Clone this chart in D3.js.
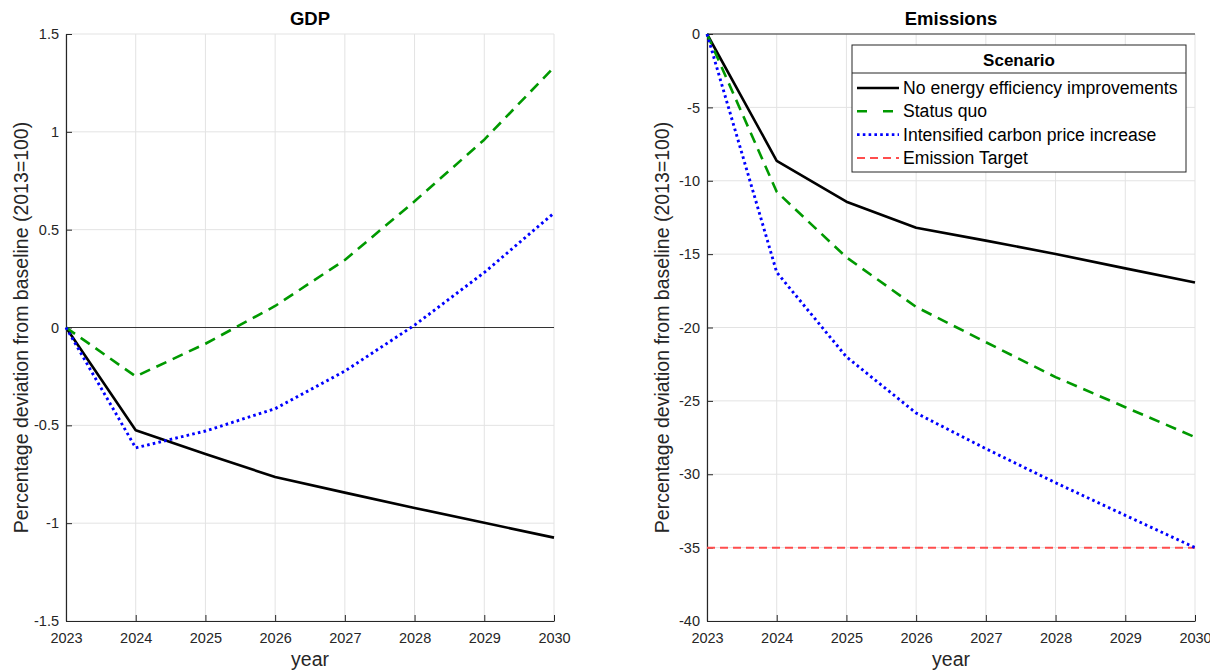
<!DOCTYPE html>
<html>
<head>
<meta charset="utf-8">
<script src="https://cdn.jsdelivr.net/npm/d3@7"></script>
<style>
  html, body { margin: 0; padding: 0; background: #fff; }
  svg { display: block; font-family: "Liberation Sans", Arial, Helvetica, sans-serif; }
</style>
</head>
<body>
<svg id="chart" width="1210" height="671"></svg>
<script>
// ---------- data ----------
const years = [2023, 2024, 2025, 2026, 2027, 2028, 2029, 2030];

const gdpNoEE      = [0, -0.525, -0.647, -0.764, -0.844, -0.922, -0.998, -1.074];
const gdpStatusQuo = [0, -0.25, -0.083, 0.11, 0.345, 0.645, 0.96, 1.33];
const gdpCarbon    = [0, -0.615, -0.529, -0.415, -0.223, 0.012, 0.281, 0.585];

const emiNoEE      = [0, -8.64, -11.43, -13.2, -14.08, -14.99, -15.97, -16.94];
const emiStatusQuo = [0, -10.75, -15.22, -18.6, -21.0, -23.38, -25.43, -27.47];
const emiCarbon    = [0, -16.24, -22.0, -25.83, -28.26, -30.58, -32.8, -35.0];
const emiTarget    = [-35, -35, -35, -35, -35, -35, -35, -35];

const gdpTicks = [-1.5, -1, -0.5, 0, 0.5, 1, 1.5];
const emiTicks = [-40, -35, -30, -25, -20, -15, -10, -5, 0];

const legendTitle = "Scenario";
const seriesNames = ["No energy efficiency improvements", "Status quo", "Intensified carbon price increase", "Emission Target"];
const yLabelText = "Percentage deviation from baseline (2013=100)";
const xLabelText = "year";

// ---------- styles ----------
const styles = {
  noEE:   { color: "#000000", width: 2.6, dash: null },
  sq:     { color: "#009900", width: 2.6, dash: "11,7" },
  carbon: { color: "#0000ff", width: 2.9, dash: "2.6,3.2" },
  target: { color: "#ff4d4d", width: 2.0, dash: "8,5" }
};
const axisColor = "#262626";
const gridColor = "#e3e3e3";
const tickFont = 14.5;
const labelFont = 19.5;

const svg = d3.select("#chart");

function panel(opts) {
  const { x0, x1, y0, y1, yDomain, yTicks, title, series, zeroLine } = opts;
  const x = d3.scaleLinear().domain([2023, 2030]).range([x0, x1]);
  const y = d3.scaleLinear().domain(yDomain).range([y1, y0]);
  const g = svg.append("g");

  // grid
  g.append("g").selectAll("line").data(years).join("line")
    .attr("x1", d => x(d)).attr("x2", d => x(d))
    .attr("y1", y0).attr("y2", y1)
    .attr("stroke", gridColor).attr("stroke-width", 1);
  g.append("g").selectAll("line").data(yTicks).join("line")
    .attr("x1", x0).attr("x2", x1)
    .attr("y1", d => y(d)).attr("y2", d => y(d))
    .attr("stroke", gridColor).attr("stroke-width", 1);

  // zero line
  if (zeroLine) {
    g.append("line")
      .attr("x1", x0).attr("x2", x1)
      .attr("y1", y(0)).attr("y2", y(0))
      .attr("stroke", "#333").attr("stroke-width", 1.2);
  }

  // axes (ticks inside)
  const xAxis = d3.axisBottom(x).tickValues(years).tickFormat(d => String(d))
    .tickSizeInner(-6).tickSizeOuter(0).tickPadding(12);
  const gx = g.append("g").attr("transform", `translate(0,${y1})`).call(xAxis);
  const yAxis = d3.axisLeft(y).tickValues(yTicks).tickFormat(d => String(d))
    .tickSizeInner(-6).tickSizeOuter(0).tickPadding(7);
  const gy = g.append("g").attr("transform", `translate(${x0},0)`).call(yAxis);
  [gx, gy].forEach(a => {
    a.select(".domain").attr("stroke", axisColor).attr("stroke-width", 1.2);
    a.selectAll(".tick line").attr("stroke", axisColor).attr("stroke-width", 1);
    a.selectAll(".tick text").attr("fill", axisColor).style("font-size", tickFont + "px")
      .style("font-family", "'Liberation Sans', Arial, sans-serif");
  });

  // lines
  const line = d3.line().x((d, i) => x(years[i])).y(d => y(d));
  series.forEach(s => {
    g.append("path").datum(s.values)
      .attr("d", line)
      .attr("fill", "none")
      .attr("stroke", s.style.color)
      .attr("stroke-width", s.style.width)
      .attr("stroke-dasharray", s.style.dash)
      .attr("stroke-linejoin", "round");
  });

  // title
  g.append("text").attr("x", (x0 + x1) / 2).attr("y", 25)
    .attr("text-anchor", "middle").attr("font-weight", "bold")
    .attr("font-size", 18.5).attr("fill", "#000").text(title);
  // x label
  g.append("text").attr("x", (x0 + x1) / 2).attr("y", 666)
    .attr("text-anchor", "middle").attr("font-size", labelFont).attr("fill", axisColor)
    .text(xLabelText);
  // y label
  g.append("text")
    .attr("transform", `translate(${x0 - 38},${(y0 + y1) / 2}) rotate(-90)`)
    .attr("text-anchor", "middle").attr("font-size", labelFont).attr("fill", axisColor)
    .text(yLabelText);
  return { x, y, g };
}

panel({
  x0: 66, x1: 554, y0: 34, y1: 621, yDomain: [-1.5, 1.5], yTicks: gdpTicks,
  title: "GDP", zeroLine: true,
  series: [
    { values: gdpNoEE, style: styles.noEE },
    { values: gdpStatusQuo, style: styles.sq },
    { values: gdpCarbon, style: styles.carbon }
  ]
});

panel({
  x0: 707, x1: 1195, y0: 34, y1: 621, yDomain: [-40, 0], yTicks: emiTicks,
  title: "Emissions", zeroLine: true,
  series: [
    { values: emiTarget, style: styles.target },
    { values: emiNoEE, style: styles.noEE },
    { values: emiStatusQuo, style: styles.sq },
    { values: emiCarbon, style: styles.carbon }
  ]
});

// legend
const lg = svg.append("g");
const lx = 852, ly = 45, lw = 334, lh = 127;
lg.append("rect").attr("x", lx).attr("y", ly).attr("width", lw).attr("height", lh)
  .attr("fill", "#fff").attr("stroke", axisColor).attr("stroke-width", 1);
lg.append("line").attr("x1", lx).attr("x2", lx + lw).attr("y1", 73).attr("y2", 73)
  .attr("stroke", axisColor).attr("stroke-width", 1);
lg.append("text").attr("x", lx + lw / 2).attr("y", 65.5).attr("text-anchor", "middle")
  .attr("font-weight", "bold").attr("font-size", 17).attr("fill", "#000").text(legendTitle);
const legStyles = [styles.noEE, styles.sq, styles.carbon, styles.target];
const legDash = [null, "10,16", "2.6,3.2", "8,5"];
seriesNames.forEach((name, i) => {
  const yy = 88 + i * 23.3;
  lg.append("line").attr("x1", 857).attr("x2", 899).attr("y1", yy).attr("y2", yy)
    .attr("stroke", legStyles[i].color).attr("stroke-width", legStyles[i].width)
    .attr("stroke-dasharray", legDash[i]);
  lg.append("text").attr("x", 903).attr("y", yy + 6).attr("font-size", 17.6)
    .attr("fill", "#000").text(name);
});
</script>
</body>
</html>
